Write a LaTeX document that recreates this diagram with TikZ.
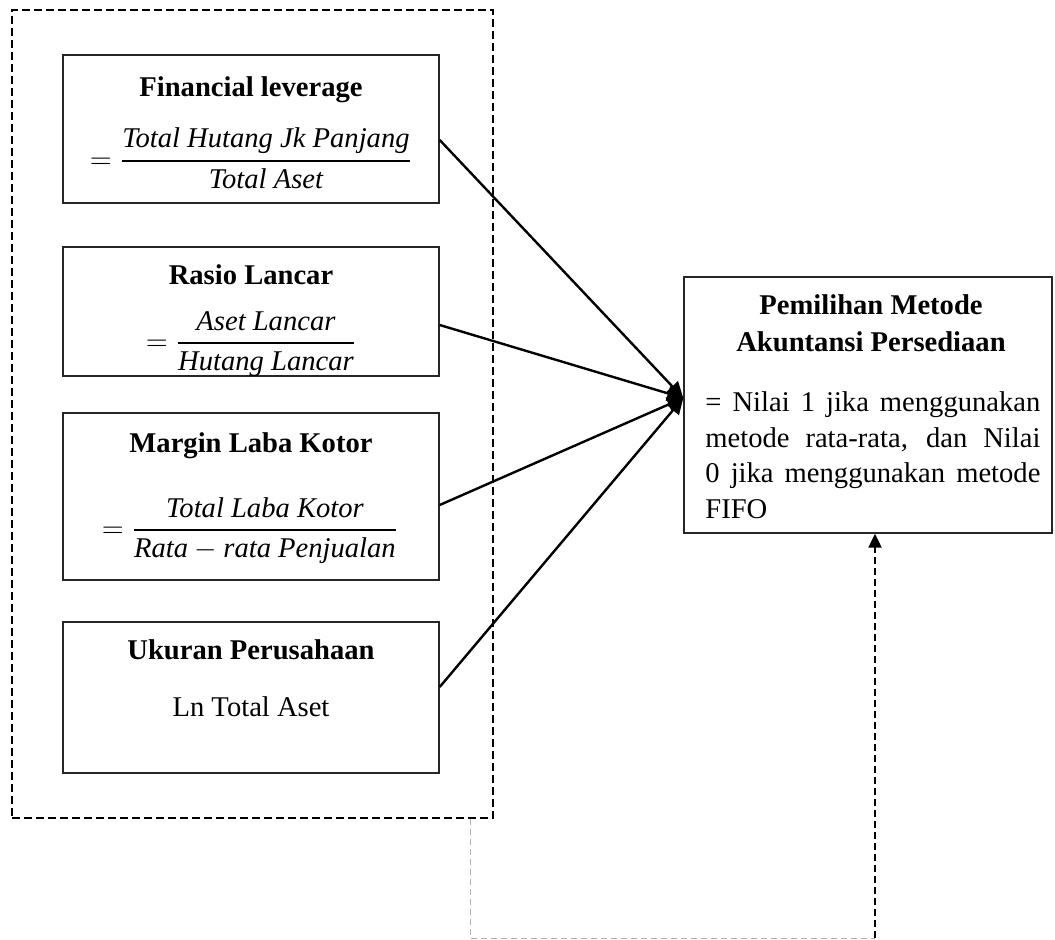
\documentclass[tikz,border=0pt]{standalone}
\usepackage{amsmath}
\usepackage{fontspec}
\setmainfont{Liberation Serif}
\usetikzlibrary{arrows.meta}
\newcommand{\myfrac}[2]{\genfrac{}{}{1.1pt}{0}{#1}{#2}}
\begin{document}
\begin{tikzpicture}[x=0.5pt,y=-0.5pt,
  font=\fontsize{14.3}{17.75}\selectfont,
  box/.style={draw=black!85,line width=0.7pt,rectangle,inner sep=0pt},
  ttl/.style={font=\fontsize{14.3}{17.75}\selectfont\bfseries,anchor=base,inner sep=0pt},
  txt/.style={anchor=base,inner sep=0pt},
  frm/.style={draw,line width=1.1pt,dash pattern=on 4pt off 2pt,rectangle,inner sep=0pt},
  arr/.style={line width=1.2pt,-{Triangle[length=8pt,width=7.5pt]}},
  thinline/.style={draw=gray!60,line width=0.4pt,dash pattern=on 3pt off 2pt},
  dasharr/.style={line width=1.1pt,dash pattern=on 3.5pt off 2pt,-{Triangle[length=7pt,width=6.5pt]}}]
\useasboundingbox (0,0) rectangle (1055,940);

% outer dashed frame
\node[frm,minimum width=240.5pt,minimum height=404pt] (frame) at (252.5,414) {};

% left boxes
\node[box,minimum width=188pt,minimum height=74pt] (b1) at (251,129) {};
\node[ttl] (t1) at (251,97) {Financial leverage};
\node[inner sep=0pt] (f1) at (251,158) {$=\myfrac{\textit{Total Hutang Jk Panjang}}{\textit{Total Aset}}$};

\node[box,minimum width=188pt,minimum height=64.5pt] (b2) at (251,311.5) {};
\node[ttl] (t2) at (251,285) {Rasio Lancar};
\node[inner sep=0pt] (f2) at (251,344) {$=\myfrac{\textit{Aset Lancar}}{\textit{Hutang Lancar}}$};

\node[box,minimum width=188pt,minimum height=83.5pt] (b3) at (251,496.5) {};
\node[ttl] (t3) at (251,453) {Margin Laba Kotor};
\node[inner sep=0pt] (f3) at (250,531) {$=\myfrac{\textit{Total Laba Kotor}}{\textit{Rata} - \textit{rata Penjualan}}$};

\node[box,minimum width=188pt,minimum height=75.5pt] (b4) at (251,697.5) {};
\node[ttl] (t4) at (251,660) {Ukuran Perusahaan};
\node[txt] (l4) at (251,717) {Ln Total Aset};

% right box
\node[box,minimum width=184pt,minimum height=128pt] (r) at (868,405) {};
\node[ttl] (rt1) at (871,315) {Pemilihan Metode};
\node[ttl] (rt2) at (871,352) {Akuntansi Persediaan};
\node[anchor=base west,inner sep=0pt,text width=167.5pt,align=justify] (rb) at (705,412)
  {= Nilai 1 jika menggunakan metode rata-rata, dan Nilai 0 jika menggunakan metode FIFO};

% arrows
\draw[arr] ([yshift=-5.5pt]b1.east) -- ([yshift=3.5pt]r.west);
\draw[arr] ([yshift=-6.75pt]b2.east) -- ([yshift=3.5pt]r.west);
\draw[arr] ([yshift=-4.25pt]b3.east) -- ([yshift=3.5pt]r.west);
\draw[arr] ([yshift=5.25pt]b4.east) -- ([yshift=3.5pt]r.west);

% bottom connector
\coordinate (c2) at (875,938);
\draw[thinline] ([xshift=108.75pt]frame.south) |- (c2);
\draw[dasharr] (c2) -- (c2 |- r.south);
\end{tikzpicture}
\end{document}
